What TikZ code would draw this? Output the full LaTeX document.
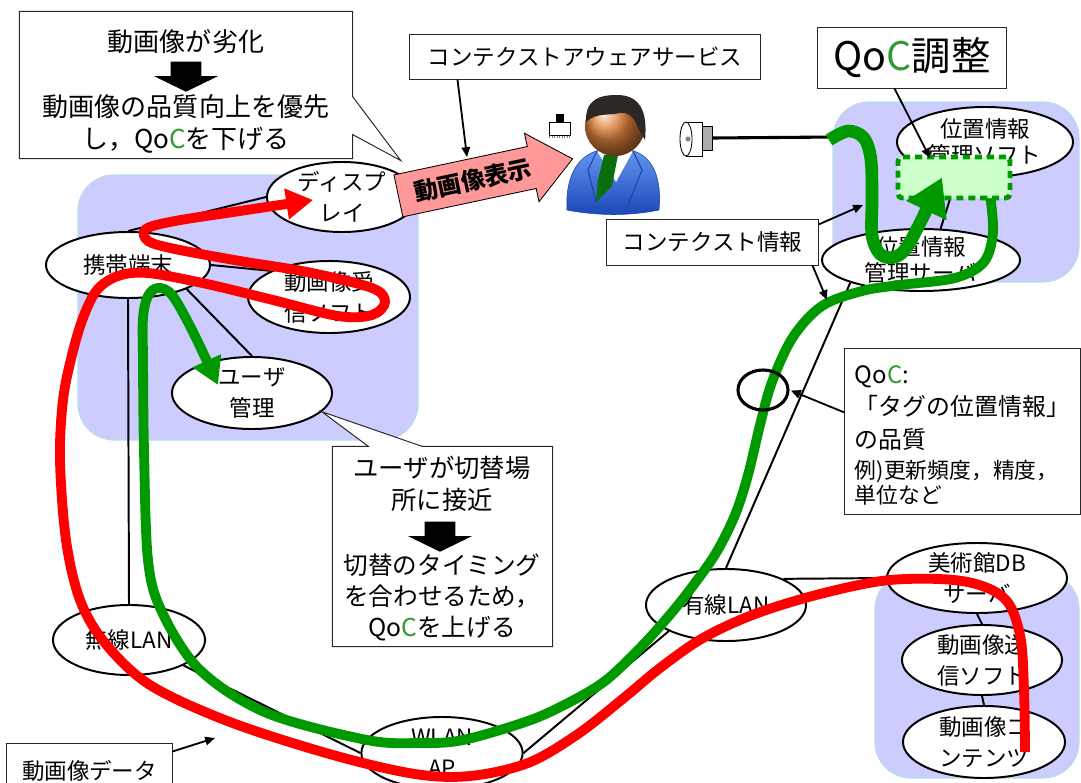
\documentclass[tikz,border=0pt]{standalone}
\usepackage{fontspec}
\setmainfont{Noto Sans CJK JP}
\usepackage{tikz}
\usetikzlibrary{shapes.geometric, shapes.arrows, arrows.meta, calc}

\definecolor{areafill}{RGB}{204,204,255}
\definecolor{areaedge}{RGB}{183,222,232}
\definecolor{flowred}{RGB}{255,0,0}
\definecolor{flowgreen}{RGB}{0,153,0}
\definecolor{qocgreen}{RGB}{51,153,51}
\definecolor{tunefill}{RGB}{204,255,204}
\definecolor{showpink}{RGB}{255,153,153}
\definecolor{boxline}{RGB}{40,40,40}
\definecolor{suitlight}{RGB}{100,150,240}
\definecolor{suitdark}{RGB}{25,70,180}
\definecolor{tiegreen}{RGB}{10,110,10}
\definecolor{skin}{RGB}{225,130,60}
\definecolor{hair}{RGB}{45,40,38}

\newcommand{\qoc}{Qo\textcolor{qocgreen}{C}}

\begin{document}
\begin{tikzpicture}[
        x=0.025cm, y=-0.025cm,
        font=\fontsize{16}{22}\selectfont,
        % Styles for the network nodes
        netnode/.style={
            ellipse, draw, line width=1.4pt, fill=white,
            inner xsep=0pt, inner ysep=-4pt, align=center
        },
        area/.style={
            fill=areafill, draw=areaedge, line width=0.8pt,
            rounded corners=0.9cm
        },
        link/.style={draw, line width=1.4pt},
        % Boxes and callouts
        notebox/.style={
            rectangle, draw=boxline, line width=0.7pt, fill=white,
            inner sep=0pt, align=center
        },
        noteedge/.style={draw=boxline, line width=0.7pt, fill=white},
        callfont/.style={font=\fontsize{18.5}{22.5}\selectfont, align=center},
        pointer/.style={-{Triangle[length=7pt, width=6pt]}, line width=1.3pt},
        blockdown/.style={
            single arrow, fill=black, rotate=-90,
            inner xsep=0pt, inner ysep=0.375cm,
            minimum height=0.75cm, minimum width=1.6cm,
            single arrow head extend=0.42cm, single arrow tip angle=128,
            single arrow head indent=0pt
        },
        showarrow/.style={
            single arrow, draw, line width=0.6pt, fill=showpink, rotate=12,
            minimum height=4.45cm, minimum width=1.75cm,
            single arrow head extend=0.3cm, single arrow tip angle=80,
            inner xsep=4pt, inner ysep=5pt,
            font=\fontsize{17}{17}\selectfont\bfseries
        },
        % Thick flow paths
        redflow/.style={draw=flowred, line width=7pt},
        greenflow/.style={draw=flowgreen, line width=7pt},
        tunearea/.style={
            rectangle, draw=flowgreen, fill=tunefill, line width=3.5pt,
            dash pattern=on 5pt off 3.5pt, rounded corners=3pt,
            minimum width=2.8cm, minimum height=1.025cm
        },
        qocring/.style={
            ellipse, draw, line width=2.2pt, inner sep=0pt,
            minimum width=1.25cm, minimum height=1cm
        }
    ]

    \useasboundingbox (0,0) rectangle (1081,783);
    \clip (0,0) rectangle (1081,783);

    % 1. BACKGROUND AREAS
    \draw[area] (78,175) rectangle (418,440);
    \draw[area] (833,102) rectangle (1079,282);
    \draw[area] (875,573) rectangle (1079,778);

    % 2. NETWORK NODES
    \node[netnode, minimum width=3.75cm, minimum height=1.75cm] (Disp)    at (342,197) {ディスプ\\レイ};
    \node[netnode, minimum width=4.1cm,  minimum height=1.65cm] (Mobile)  at (128,265) {携帯端末};
    \node[netnode, minimum width=4.05cm, minimum height=1.8cm]  (Recv)    at (329,297) {動画像受\\信ソフト};
    \node[netnode, minimum width=4cm,    minimum height=1.8cm]  (User)    at (252,393) {ユーザ\\管理};
    \node[netnode, minimum width=3.8cm,  minimum height=1.75cm] (Wless)   at (129,640) {無線LAN};
    \node[netnode, minimum width=4.03cm, minimum height=1.8cm]  (AP)      at (442,753) {WLAN\\AP};
    \node[netnode, minimum width=4cm,    minimum height=1.8cm]  (Wired)   at (726,605) {有線LAN};
    \node[netnode, minimum width=4.5cm,  minimum height=1.75cm] (MuseumDB) at (977,578) {美術館DB\\サーバ};
    \node[netnode, minimum width=4cm,    minimum height=1.75cm] (Send)    at (982,660) {動画像送\\信ソフト};
    \node[netnode, minimum width=4.05cm, minimum height=1.8cm]  (Content) at (984,742) {動画像コ\\ンテンツ};
    \node[netnode, minimum width=4.4cm,  minimum height=1.75cm,
          font=\fontsize{16}{19}\selectfont]                    (LocSoft) at (985,142) {位置情報\\管理ソフト};
    \node[netnode, minimum width=4.95cm, minimum height=1.55cm,
          font=\fontsize{16}{19}\selectfont]                    (LocServer) at (921,260) {位置情報\\管理サーバ};

    % 3. LINKS
    \draw[link] (Mobile.north)      -- (Disp.west);
    \draw[link] (Mobile.east)       -- (Recv.north west);
    \draw[link] (Mobile.south east) -- (User.north);
    \draw[link] (Mobile.south)      -- (Wless.north);
    \draw[link] (Wless.south east)  -- (AP.west);
    \draw[link] (AP.east)           -- (Wired.south west);
    \draw[link] (Wired.north east)  -- (MuseumDB.west);
    \draw[link] (Wired.north)       -- (LocServer.south west);
    \draw[link] (LocServer.58)      -- (LocSoft.231);
    \draw[link] (MuseumDB.south)    -- (Send.north);
    \draw[link] (Send.south)        -- (Content.north);

    % 4. USER, TAG AND SENSOR
    % tag
    \draw[fill=white, line width=0.6pt] (549,122) rectangle (570,135);
    \fill (556,114) rectangle (564,123);
    \draw[gray, densely dotted, line width=0.8pt] (549,137) -- (570,137);

    % user
    \shade[top color=suitlight, bottom color=suitdark, draw=suitdark, line width=0.4pt]
        (567,210) .. controls (565,178) and (577,155) .. (600,150) -- (630,150)
        .. controls (653,155) and (662,178) .. (659,210)
        .. controls (630,216) and (598,216) .. (567,210) -- cycle;
    \fill[white] (597,151) -- (633,151) -- (616,182) -- cycle;
    \fill[tiegreen] (604,155) -- (618,155) -- (612,186) -- (596,202) -- (598,180) -- cycle;
    \draw[suitdark, line width=0.8pt] (597,151) -- (588,170) -- (596,202);
    \draw[suitdark, line width=0.8pt] (633,151) -- (642,170) -- (628,205);
    \shade[ball color=skin] (615,126) circle (30);
    \fill[hair] (586,122) .. controls (585,99) and (600,95) .. (617,95)
        .. controls (639,95) and (648,110) .. (645,140) -- (638,128)
        .. controls (635,117) and (628,112) .. (620,113)
        .. controls (608,116) and (597,112) .. (586,122) -- cycle;

    % sensor
    \draw[fill=white, line width=0.6pt] (686,122) rectangle (702,156);
    \draw[fill=white, line width=0.6pt] (686,139) ellipse [x radius=6, y radius=17];
    \fill[gray] (688,139) circle (2.5);
    \node[draw, fill=gray!65, line width=0.6pt, inner sep=0pt,
          minimum width=0.25cm, minimum height=0.6cm] (Sensor) at (707,138) {};
    \coordinate (SensorEnd) at (836,137);
    \draw[line width=2.2pt] (Sensor.east) -- (SensorEnd);

    % 5. CALLOUTS AND LABEL BOXES
    % degradation callout
    \node[notebox, draw=none, minimum width=8.3cm, minimum height=3.65cm] (Warn) at (186,85) {};
    \coordinate (WarnTip) at ($(Disp.north east)+(5,-11)$);
    \draw[noteedge] (Warn.north west) -- (Warn.north east) -- ($(Warn.north east)+(0,85)$)
        -- (WarnTip) -- ($(Warn.north east)+(0,123)$) -- (Warn.south east)
        -- (Warn.south west) -- cycle;
    \node[callfont] (WarnTop) at (186,42) {動画像が劣化};
    \node[blockdown] (WarnArrow) at (186,73) {};
    \node[callfont] (WarnBot) at (186,124) {動画像の品質向上を優先\\し，\qoc を下げる};

    % switching callout
    \node[notebox, draw=none, minimum width=5.475cm, minimum height=4.975cm] (Switch) at (442.5,546.5) {};
    \draw[noteedge] (Switch.north west) -- ($(Switch.north west)+(36,0)$) -- (User.-15)
        -- ($(Switch.north west)+(90,0)$) -- (Switch.north east) -- (Switch.south east)
        -- (Switch.south west) -- cycle;
    \node[callfont, font=\fontsize{18}{23}\selectfont] (SwitchTop) at (442,484) {ユーザが切替場\\所に接近};
    \node[blockdown] (SwitchArrow) at (440,533) {};
    \node[callfont, font=\fontsize{17.5}{22}\selectfont] (SwitchBot) at (442,597) {切替のタイミング\\を合わせるため，\\\qoc を上げる};

    % QoC definition box
    \node[notebox, minimum width=5.875cm, minimum height=4.125cm] (Qbox) at (962.5,431.5) {};
    \node[anchor=west, align=left, font=\fontsize{17}{23.4}\selectfont] (QboxTop) at (850,408)
        {\qoc:\\「タグの位置情報」\\の品質};
    \node[anchor=west, align=left, font=\fontsize{15.5}{18}\selectfont] (QboxBot) at (850,483)
        {例)更新頻度，精度，\\単位など};

    \node[notebox, minimum width=8.75cm,  minimum height=1.125cm] (Aware)   at (585,56.5)  {コンテクストアウェアサービス};
    \node[notebox, minimum width=5.275cm, minimum height=1.15cm]  (Context) at (712.5,242) {コンテクスト情報};
    \node[notebox, minimum width=4.7cm,   minimum height=1.525cm,
          font=\fontsize{28}{30}\selectfont]                       (Tune)    at (912,57.5)  {\qoc 調整};
    \node[notebox, minimum width=4.125cm, minimum height=1.375cm] (VData)   at (89.5,770.5) {動画像データ};

    % display arrow
    \node[showarrow] (Show) at (473,180) {動画像表示};

    % 6. FLOWS
    \coordinate (RedStart)   at ($(Content)+(41,10)$);
    \coordinate (RedEnd)     at ($(Disp)+(-29,3)$);
    \coordinate (GreenStart) at (990,195);
    \coordinate (GreenEnd)   at ($(User)+(-34,-8)$);

    % video data: content -> display
    \draw[redflow, -{Triangle[length=19pt, width=21pt]}] plot[smooth, tension=0.55] coordinates {
        (RedStart) (1024,690) (1020,635) (1004,598) (962,581) (890,580) (820,594)
        (755,614) (703,638) (660,668) (625,697) (578,734) (528,763) (470,776)
        (415,774) (333,755) (230,722) (150,685) (105,643) (80,600) (66,540)
        (60,460) (63,400) (72,355) (83,318) (97,290) (118,276) (148,273)
        (207,284) (273,300) (338,316) (372,315) (385,302) (372,288) (307,272)
        (240,261) (175,249) (148,241) (146,229) (175,221) (240,211) (RedEnd)};

    % position data: tuning -> user management
    \draw[greenflow, -{Triangle[length=19pt, width=21pt]}] plot[smooth, tension=0.55] coordinates {
        (GreenStart) (993,232) (984,262) (955,278) (900,285) (862,291) (822,306)
        (793,337) (772,382) (760,425) (748,475) (735,515) (716,553) (692,587)
        (668,617) (640,648) (605,681) (568,703) (528,721) (463,740) (420,743)
        (367,740) (267,713) (200,670) (162,612) (148,560) (144,450) (143,360)
        (143,318) (148,296) (158,288) (172,295) (192,330) (GreenEnd)};

    \node[tunearea] (TuneArea) at (954,177.5) {};

    % sensor data into the tuning step
    \coordinate (TuneTip) at ($(TuneArea)+(-12,0)$);
    \draw[greenflow, line width=9pt, -{Triangle[length=26pt, width=30pt]}] plot[smooth, tension=0.55] coordinates {
        ($(SensorEnd)+(-7,3)$) (848,131) (864,138) (871,160) (872,200) (872,235)
        (880,254) (895,257) (910,242) (TuneTip)};

    % 7. POINTERS
    \coordinate (AwareTarget) at (467,157);
    \coordinate (TuneTarget)  at (930,158);
    \coordinate (ContextUp)   at (863,205);
    \coordinate (ContextDown) at (827,300);
    \coordinate (DataTarget)  at (215,738);
    \draw[pointer] ($(Aware.south west)+(48,0)$)   -- (AwareTarget);
    \draw[pointer] ($(Tune.south west)+(77,0)$)    -- (TuneTarget);
    \draw[pointer] ($(Context.north east)+(0,6)$)  -- (ContextUp);
    \draw[pointer] ($(Context.south east)+(-6,0)$) -- (ContextDown);
    \draw[pointer] ($(VData.north east)+(0,9)$)    -- (DataTarget);

    \node[qocring] (QocRing) at (763,390) {};
    \draw[pointer, shorten >=1pt] ($(Qbox.west)+(0,-19)$) -- (QocRing.east);

\end{tikzpicture}
\end{document}
